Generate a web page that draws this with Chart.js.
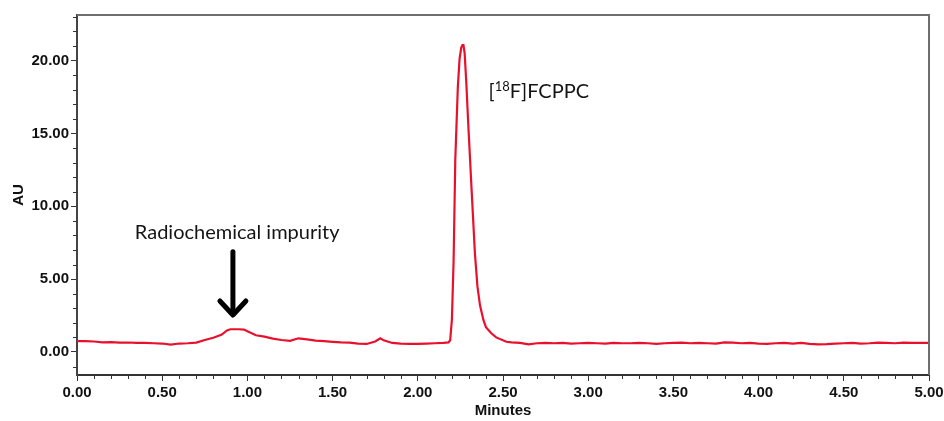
<!DOCTYPE html>
<html>
<head>
<meta charset="utf-8">
<script src="https://cdn.jsdelivr.net/npm/chart.js@4.4.1/dist/chart.umd.min.js"></script>
<style>
  html, body { margin: 0; padding: 0; background: #ffffff; }
  #c { display: block; }
</style>
</head>
<body>
<canvas id="c" width="944" height="421"></canvas>
<script>
// ---- Data ----
const timeMin = [
  0.00, 0.05, 0.10, 0.15, 0.20, 0.25, 0.30, 0.35, 0.40, 0.45,
  0.50, 0.55, 0.60, 0.65, 0.70, 0.75, 0.80, 0.85, 0.88, 0.90,
  0.95, 0.98, 1.00, 1.05, 1.10, 1.15, 1.20, 1.25, 1.30, 1.35,
  1.40, 1.45, 1.50, 1.55, 1.60, 1.65, 1.70, 1.75, 1.78, 1.80,
  1.85, 1.90, 1.95, 2.00, 2.05, 2.10, 2.15, 2.18, 2.19, 2.20,
  2.21, 2.22, 2.235, 2.245, 2.255, 2.262, 2.268, 2.275, 2.285, 2.295,
  2.315, 2.335, 2.35, 2.365, 2.385, 2.40, 2.43, 2.46, 2.52, 2.55,
  2.60, 2.65, 2.70, 2.75, 2.80,
  2.85, 2.90, 2.95, 3.00, 3.05, 3.10, 3.15, 3.20, 3.25, 3.30,
  3.35, 3.40, 3.45, 3.50, 3.55, 3.60, 3.65, 3.70, 3.75, 3.80,
  3.85, 3.90, 3.95, 4.00, 4.05, 4.10, 4.15, 4.20, 4.25, 4.30,
  4.35, 4.40, 4.45, 4.50, 4.55, 4.60, 4.65, 4.70, 4.75, 4.80,
  4.85, 4.90, 4.95, 5.00
];
const absorbanceAU = [
  0.75, 0.74, 0.72, 0.66, 0.67, 0.64, 0.65, 0.62, 0.62, 0.60,
  0.58, 0.50, 0.58, 0.60, 0.64, 0.82, 0.98, 1.20, 1.48, 1.56,
  1.56, 1.54, 1.42, 1.15, 1.05, 0.92, 0.82, 0.76, 0.94, 0.86,
  0.78, 0.74, 0.70, 0.66, 0.64, 0.58, 0.55, 0.72, 0.94, 0.80,
  0.62, 0.57, 0.56, 0.56, 0.58, 0.60, 0.62, 0.66, 0.80, 2.20,
  6.20, 13.20, 18.20, 20.10, 20.90, 21.07, 21.07, 20.50, 18.40, 15.90,
  11.30, 6.80, 4.50, 3.20, 2.20, 1.70, 1.30, 1.00, 0.70, 0.66,
  0.62, 0.52, 0.60, 0.62, 0.60,
  0.62, 0.58, 0.60, 0.62, 0.60, 0.58, 0.62, 0.60, 0.60, 0.63,
  0.60, 0.56, 0.60, 0.62, 0.64, 0.60, 0.62, 0.60, 0.58, 0.66,
  0.64, 0.60, 0.62, 0.58, 0.56, 0.60, 0.62, 0.58, 0.62, 0.56,
  0.52, 0.54, 0.58, 0.60, 0.62, 0.58, 0.60, 0.64, 0.62, 0.60,
  0.64, 0.62, 0.62, 0.62
];
const xTickValues = [0.0, 0.5, 1.0, 1.5, 2.0, 2.5, 3.0, 3.5, 4.0, 4.5, 5.0];
const yTickValues = [0, 5, 10, 15, 20];
const xMinorStep = 0.1;
const yMinorStep = 1;
const xRange = [0, 5];
const yRange = [-1.58, 23.13];

// annotation anchors in data units
const impurityLabel = { text: 'Radiochemical impurity', x: 0.94, y: 7.73 };
const impurityArrow = { x: 0.915, yFrom: 6.88, yTo: 2.47 };
const mainPeakLabel = { pre: '[', sup: '18', post: 'F]FCPPC', x: 2.415, y: 17.43 };

const points = timeMin.map((t, i) => ({ x: t, y: absorbanceAU[i] }));

const tickFont = { family: '"Liberation Sans", Arial, sans-serif', size: 15, weight: 'bold' };

const framePlugin = {
  id: 'frameAndMinor',
  afterDraw(chart) {
    const { ctx, chartArea: a, scales: { x, y } } = chart;
    ctx.save();
    // top & right frame
    ctx.strokeStyle = '#6e6e6e';
    ctx.lineWidth = 2;
    ctx.beginPath();
    ctx.moveTo(a.left, a.top);
    ctx.lineTo(a.right, a.top);
    ctx.lineTo(a.right, a.bottom);
    ctx.stroke();
    // minor ticks
    ctx.strokeStyle = '#333';
    ctx.lineWidth = 1;
    ctx.beginPath();
    const nx = Math.round((xRange[1] - xRange[0]) / xMinorStep);
    for (let i = 0; i <= nx; i++) {
      const v = xRange[0] + i * xMinorStep;
      if (Math.abs(v / 0.5 - Math.round(v / 0.5)) < 1e-6) continue;
      const px = Math.round(x.getPixelForValue(v)) + 0.5;
      ctx.moveTo(px, a.bottom);
      ctx.lineTo(px, a.bottom + 4);
    }
    for (let v = Math.ceil(yRange[0]); v <= yRange[1]; v += yMinorStep) {
      if (v % 5 === 0) continue;
      const py = Math.round(y.getPixelForValue(v)) + 0.5;
      ctx.moveTo(a.left, py);
      ctx.lineTo(a.left - 4, py);
    }
    ctx.stroke();
    ctx.restore();
  },
  afterDatasetsDraw(chart) {
    const { ctx, scales: { x, y } } = chart;
    ctx.save();
    ctx.fillStyle = '#141414';
    ctx.textBaseline = 'alphabetic';
    const annFont = '20px Lato, "Open Sans", sans-serif';
    ctx.font = annFont;
    ctx.textAlign = 'center';
    ctx.fillText(impurityLabel.text, x.getPixelForValue(impurityLabel.x), y.getPixelForValue(impurityLabel.y));

    // main peak label with superscript
    ctx.textAlign = 'left';
    let px = x.getPixelForValue(mainPeakLabel.x);
    const py = y.getPixelForValue(mainPeakLabel.y);
    ctx.font = annFont;
    ctx.fillText(mainPeakLabel.pre, px, py);
    px += ctx.measureText(mainPeakLabel.pre).width;
    ctx.font = '13px Lato, "Open Sans", sans-serif';
    ctx.fillText(mainPeakLabel.sup, px, py - 7);
    px += ctx.measureText(mainPeakLabel.sup).width;
    ctx.font = annFont;
    ctx.fillText(mainPeakLabel.post, px, py);

    // arrow
    const ax = x.getPixelForValue(impurityArrow.x);
    const ay1 = y.getPixelForValue(impurityArrow.yFrom);
    const ay2 = y.getPixelForValue(impurityArrow.yTo);
    ctx.strokeStyle = '#000';
    ctx.lineWidth = 5;
    ctx.lineCap = 'round';
    ctx.lineJoin = 'round';
    ctx.beginPath();
    ctx.moveTo(ax, ay1);
    ctx.lineTo(ax, ay2 - 2);
    ctx.stroke();
    ctx.beginPath();
    ctx.moveTo(ax - 13, ay2 - 15);
    ctx.lineTo(ax, ay2 - 1);
    ctx.lineTo(ax + 13, ay2 - 15);
    ctx.stroke();
    ctx.restore();
  }
};

new Chart(document.getElementById('c'), {
  type: 'line',
  data: {
    datasets: [{
      data: points,
      borderColor: '#e8112d',
      borderWidth: 2.2,
      pointRadius: 0,
      tension: 0,
      fill: false
    }]
  },
  options: {
    responsive: false,
    animation: false,
    parsing: false,
    layout: { padding: { left: 0, top: 15, right: 15, bottom: 0 } },
    plugins: { legend: { display: false }, tooltip: { enabled: false } },
    scales: {
      x: {
        type: 'linear',
        min: xRange[0],
        max: xRange[1],
        afterBuildTicks: s => { s.ticks = xTickValues.map(v => ({ value: v })); },
        afterFit: s => { s.height = 46; s.paddingLeft = 0; s.paddingRight = 0; },
        ticks: {
          autoSkip: false,
          maxRotation: 0,
          padding: 3,
          color: '#111',
          font: tickFont,
          callback: v => Number(v).toFixed(2)
        },
        grid: { drawOnChartArea: false, drawTicks: true, tickLength: 6, tickColor: '#333', tickWidth: 1 },
        border: { display: true, color: '#333', width: 2 },
        title: { display: true, text: 'Minutes', color: '#111', font: tickFont, padding: { top: 0, bottom: 1 } }
      },
      y: {
        type: 'linear',
        min: yRange[0],
        max: yRange[1],
        afterBuildTicks: s => { s.ticks = yTickValues.map(v => ({ value: v })); },
        afterFit: s => { s.width = 77; s.paddingTop = 0; s.paddingBottom = 0; },
        ticks: {
          autoSkip: false,
          padding: 2,
          color: '#111',
          font: tickFont,
          callback: v => Number(v).toFixed(2)
        },
        grid: { drawOnChartArea: false, drawTicks: true, tickLength: 6, tickColor: '#333', tickWidth: 1 },
        border: { display: true, color: '#444', width: 2 },
        title: { display: true, text: 'AU', color: '#111', font: tickFont, padding: { top: 10, bottom: 0 } }
      }
    }
  },
  plugins: [framePlugin]
});
</script>
</body>
</html>
